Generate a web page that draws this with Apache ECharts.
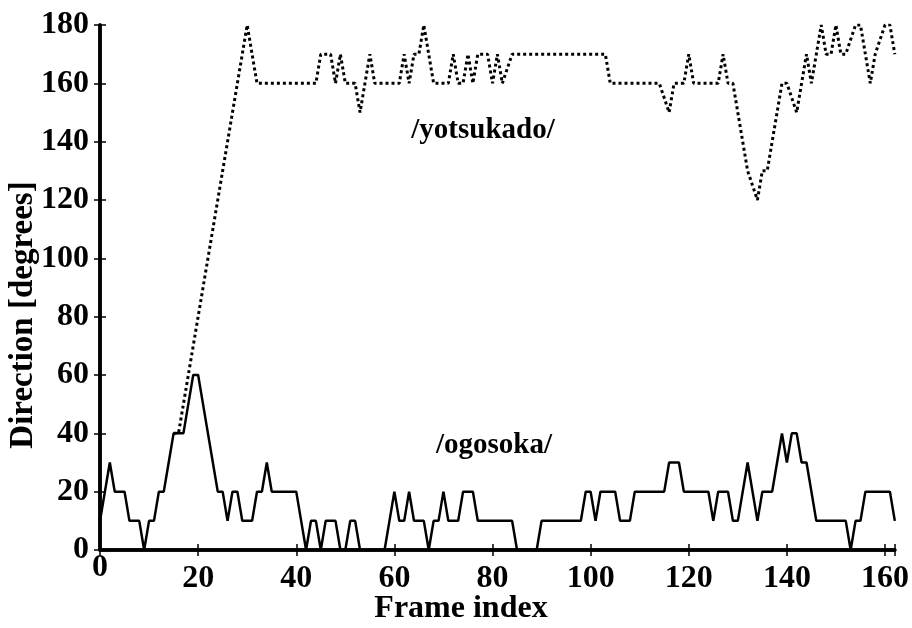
<!DOCTYPE html>
<html>
<head>
<meta charset="utf-8">
<script src="https://cdn.jsdelivr.net/npm/echarts@6/dist/echarts.min.js"></script>
<style>
  html, body { margin: 0; padding: 0; background: #fff; }
  #chart { width: 912px; height: 628px; }
</style>
</head>
<body>
<div id="chart"></div>
<script>
// Direction estimates per frame for two sequences
const frames = Array.from({ length: 163 }, (_, i) => i);

const ogosoka = [
  10, 20, 30, 20, 20, 20, 10, 10, 10, 0,
  10, 10, 20, 20, 30, 40, 40, 40, 50, 60,
  60, 50, 40, 30, 20, 20, 10, 20, 20, 10,
  10, 10, 20, 20, 30, 20, 20, 20, 20, 20,
  20, 10, 0, 10, 10, 0, 10, 10, 10, 0,
  0, 10, 10, 0, 0, 0, 0, 0, 0, 10,
  20, 10, 10, 20, 10, 10, 10, 0, 10, 10,
  20, 10, 10, 10, 20, 20, 20, 10, 10, 10,
  10, 10, 10, 10, 10, 0, 0, 0, 0, 0,
  10, 10, 10, 10, 10, 10, 10, 10, 10, 20,
  20, 10, 20, 20, 20, 20, 10, 10, 10, 20,
  20, 20, 20, 20, 20, 20, 30, 30, 30, 20,
  20, 20, 20, 20, 20, 10, 20, 20, 20, 10,
  10, 20, 30, 20, 10, 20, 20, 20, 30, 40,
  30, 40, 40, 30, 30, 20, 10, 10, 10, 10,
  10, 10, 10, 0, 10, 10, 20, 20, 20, 20,
  20, 20, 10
];

const yotsukado = [
  null, null, null, null, null, null, null, null, null, null,
  null, null, null, null, null, 40, 40, 50, 60, 70,
  80, 90, 100, 110, 120, 130, 140, 150, 160, 170,
  180, 170, 160, 160, 160, 160, 160, 160, 160, 160,
  160, 160, 160, 160, 160, 170, 170, 170, 160, 170,
  160, 160, 160, 150, 160, 170, 160, 160, 160, 160,
  160, 160, 170, 160, 170, 170, 180, 170, 160, 160,
  160, 160, 170, 160, 160, 170, 160, 170, 170, 170,
  160, 170, 160, 165, 170, 170, 170, 170, 170, 170,
  170, 170, 170, 170, 170, 170, 170, 170, 170, 170,
  170, 170, 170, 170, 160, 160, 160, 160, 160, 160,
  160, 160, 160, 160, 160, 155, 150, 160, 160, 160,
  170, 160, 160, 160, 160, 160, 160, 170, 160, 160,
  150, 140, 130, 125, 120, 130, 130, 140, 150, 160,
  160, 155, 150, 160, 170, 160, 170, 180, 170, 170,
  180, 170, 170, 175, 180, 180, 170, 160, 170, 175,
  180, 180, 170
];

const xTicks = [0, 20, 40, 60, 80, 100, 120, 140, 160];
const yTicks = [0, 20, 40, 60, 80, 100, 120, 140, 160, 180];

const FONT = '"Liberation Serif", "Times New Roman", serif';
const chart = echarts.init(document.getElementById('chart'), null, { renderer: 'canvas' });

const pair = (arr) => frames.map((f, i) => [f, arr[i]]);

const baseAxisLine = { show: true, lineStyle: { color: '#000', width: 3.5 } };
const tickIn = { show: true, inside: true, length: 6, lineStyle: { color: '#000', width: 1.5 } };

chart.setOption({
  animation: false,
  backgroundColor: '#fff',
  grid: { left: 100, right: 14, top: 25, bottom: 78, containLabel: false },
  xAxis: [
    {
      type: 'value', min: 0, max: 162, interval: 20, position: 'bottom',
      axisLine: baseAxisLine, axisTick: tickIn, splitLine: { show: false },
      axisLabel: {
        margin: 2, color: '#000',
        fontFamily: FONT, fontWeight: 'bold', fontSize: 32,
        formatter: (v) => xTicks.includes(v) ? (v === 0 ? '{z|0}' : '{n|' + v + '}') : '',
        rich: {
          z: { fontFamily: FONT, fontWeight: 'bold', fontSize: 32, color: '#000' },
          n: { fontFamily: FONT, fontWeight: 'bold', fontSize: 32, color: '#000', padding: [11, 0, 0, 0] }
        }
      }
    },
    {
      type: 'value', min: 0, max: 162, interval: 20, position: 'top',
      axisLine: baseAxisLine, axisTick: tickIn, axisLabel: { show: false }, splitLine: { show: false }
    }
  ],
  yAxis: [
    {
      type: 'value', min: 0, max: 180, interval: 20, position: 'left',
      axisLine: baseAxisLine, axisTick: tickIn, splitLine: { show: false },
      axisLabel: {
        margin: 11, color: '#000',
        fontFamily: FONT, fontWeight: 'bold', fontSize: 32,
        formatter: (v) => yTicks.includes(v) ? String(v) : ''
      }
    },
    {
      type: 'value', min: 0, max: 180, interval: 20, position: 'right',
      axisLine: baseAxisLine, axisTick: tickIn, axisLabel: { show: false }, splitLine: { show: false }
    }
  ],
  graphic: [
    {
      type: 'text', x: 461, y: 593,
      style: { text: 'Frame index', fill: '#000', font: 'bold 32px ' + FONT,
               textAlign: 'center', textVerticalAlign: 'top' }
    },
    {
      type: 'text', x: 7, y: 315, rotation: Math.PI / 2,
      style: { text: 'Direction [degrees]', fill: '#000', font: 'bold 33px ' + FONT,
               textAlign: 'center', textVerticalAlign: 'top' }
    },
    {
      type: 'text', x: 483, y: 131,
      style: { text: '/yotsukado/', fill: '#000', font: 'bold 29px ' + FONT,
               textAlign: 'center', textVerticalAlign: 'middle' }
    },
    {
      type: 'text', x: 494, y: 446,
      style: { text: '/ogosoka/', fill: '#000', font: 'bold 29px ' + FONT,
               textAlign: 'center', textVerticalAlign: 'middle' }
    }
  ],
  series: [
    {
      name: '/yotsukado/', type: 'line', data: pair(yotsukado),
      showSymbol: false, connectNulls: false, z: 2,
      lineStyle: { color: '#000', width: 3, type: [3, 3] }
    },
    {
      name: '/ogosoka/', type: 'line', data: pair(ogosoka),
      showSymbol: false, z: 3,
      lineStyle: { color: '#000', width: 2.5, type: 'solid' }
    }
  ]
});
</script>
</body>
</html>
